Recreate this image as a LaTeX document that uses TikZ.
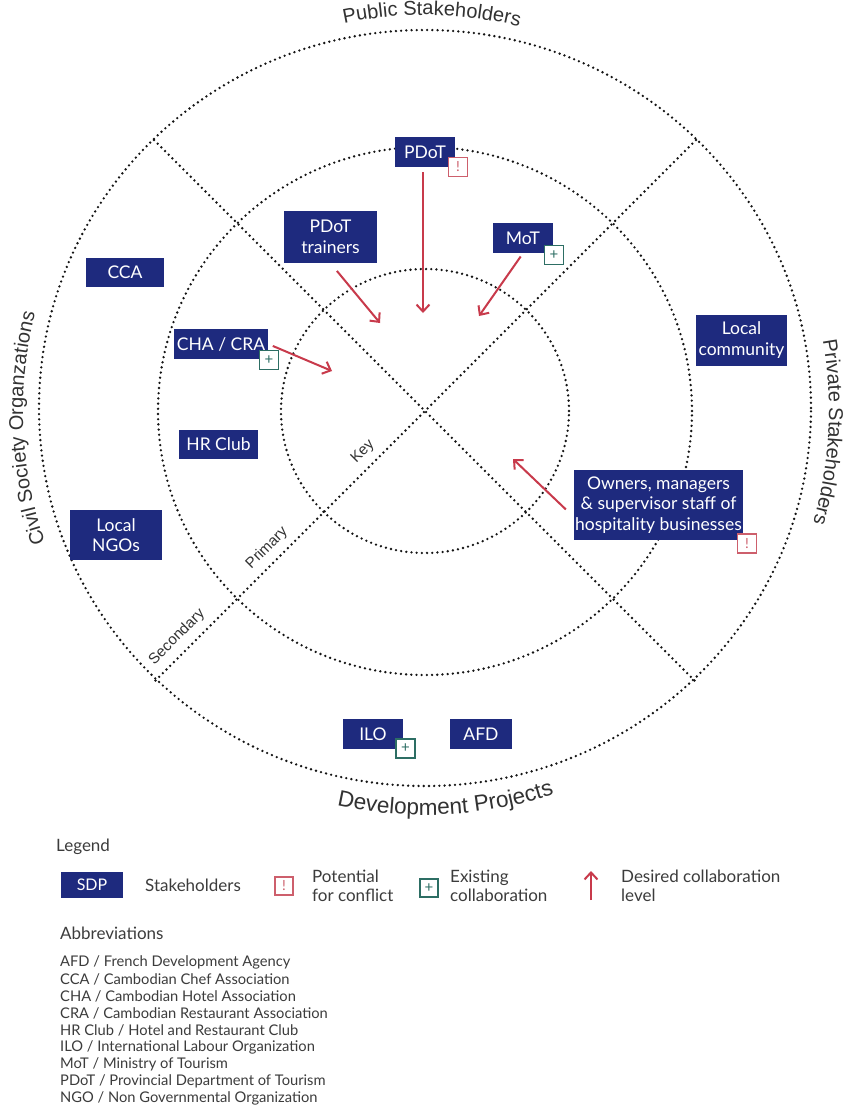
\documentclass[tikz,border=0pt]{standalone}
\usepackage{fontspec}
\setmainfont{Lato}
\newfontfamily\arialf{Liberation Sans}
\usetikzlibrary{arrows.meta,decorations.text}
\definecolor{navy}{RGB}{30,42,126}
\definecolor{arrred}{RGB}{200,58,75}
\definecolor{confred}{RGB}{205,95,108}
\definecolor{tealc}{RGB}{45,110,100}
\definecolor{txtgray}{RGB}{50,50,50}
\definecolor{lgray}{RGB}{60,60,60}
\definecolor{dotc}{RGB}{20,20,20}
\tikzset{
  dotline/.style={draw=dotc, line width=2.6pt, line cap=round, dash pattern=on 0pt off 5.2pt},
  sbox/.style={fill=navy, text=white, font=\fontsize{17.5}{20.5}\selectfont, align=center, inner sep=0pt},
  confbox/.style={draw=confred, fill=white, line width=1.1pt, minimum size=19pt, inner sep=0pt, text=confred, font=\fontsize{14}{14}\selectfont},
  collbox/.style={draw=tealc, fill=white, line width=1.1pt, minimum size=19pt, inner sep=0pt, text=tealc, font=\fontsize{15}{15}\selectfont},
  arr/.style={draw=arrred, line width=2pt, -{Straight Barb[length=7pt,width=13pt]}},
  diaglbl/.style={font=\arialf\fontsize{15}{15}\selectfont, text=txtgray, inner sep=0pt, rotate=45},
  lgtext/.style={font=\fontsize{17}{18.5}\selectfont, text=lgray, inner sep=0pt, anchor=west, align=left},
  abtext/.style={font=\fontsize{14.7}{14.7}\selectfont, text=lgray, inner sep=0pt, anchor=west},
}
\begin{document}
\begin{tikzpicture}[x=1pt,y=1pt]
\fill[white] (0,0) rectangle (843,-1109);
\useasboundingbox (0,0) rectangle (843,-1109);
\coordinate (C) at (425,-411);
\coordinate (Co) at (425,-408);
% circles
\draw[dotline] (Co) ellipse [x radius=386, y radius=378];
\draw[dotline] (C) ellipse [x radius=267, y radius=264];
\draw[dotline] (C) ellipse [x radius=144, y radius=142];
% diagonals
\coordinate (ul) at (154,-140);
\coordinate (ur) at (696,-140);
\coordinate (ll) at (154,-682);
\coordinate (lr) at (696,-682);
\draw[dotline] (ul) -- (lr);
\draw[dotline] (ur) -- (ll);
% curved labels
\path[decorate, decoration={text along path, text align=center, text color=txtgray,
  text={|\arialf\fontsize{20}{20}\selectfont|Public Stakeholders}}]
  ([shift={(114:393)}]Co) arc[start angle=114, end angle=64, radius=393];
\path[decorate, decoration={text along path, text align=center, text color=txtgray,
  text={|\arialf\fontsize{22.5}{22.5}\selectfont|Development Projects}}]
  ([shift={(-113:407)}]Co) arc[start angle=-113, end angle=-61, radius=407];
\path[decorate, decoration={text along path, text align=center, text color=txtgray,
  text={|\arialf\fontsize{20}{20}\selectfont|Civil Society Organzations}}]
  ([shift={(212:402)}]C) arc[start angle=212, end angle=153, radius=402];
\path[decorate, decoration={text along path, text align=center, text color=txtgray,
  text={|\arialf\fontsize{20}{20}\selectfont|Private Stakeholders}}]
  ([shift={(24:404)}]C) arc[start angle=24, end angle=-30, radius=404];
% diagonal labels
\node[diaglbl] (lKey) at (363,-452) {Key};
\node[diaglbl] (lPrim) at (267,-548) {Primary};
\node[diaglbl] (lSec) at (177,-637) {Secondary};
% stakeholder boxes
\node[sbox, minimum width=60pt, minimum height=30pt] (PDoT) at (425,-152) {PDoT};
\node[sbox, minimum width=93pt, minimum height=52pt] (PDoTtr) at (330.5,-237) {PDoT\\trainers};
\node[sbox, minimum width=60pt, minimum height=30pt] (MoT) at (523,-238) {MoT};
\node[sbox, minimum width=78pt, minimum height=29pt] (CCA) at (125,-272) {CCA};
\node[sbox, minimum width=94pt, minimum height=30pt] (CHA) at (221,-344) {CHA / CRA};
\node[sbox, minimum width=79pt, minimum height=29pt] (HR) at (218.5,-444.5) {HR Club};
\node[sbox, minimum width=92pt, minimum height=50pt] (NGO) at (116,-535) {Local\\NGOs};
\node[sbox, minimum width=91pt, minimum height=51pt] (LC) at (741.5,-340) {Local\\community};
\node[sbox, minimum width=169pt, minimum height=70pt] (Own) at (658.5,-505) {Owners, managers\\\& supervisor staff of\\hospitality businesses};
\node[sbox, minimum width=60pt, minimum height=30pt] (ILO) at (373,-734) {ILO};
\node[sbox, minimum width=62pt, minimum height=30pt] (AFD) at (481,-734) {AFD};
% marks
\node[confbox] (cPDoT) at (458,-167) {!};
\node[collbox] (pMoT) at (554,-255) {+};
\node[collbox] (pCHA) at (269,-360) {+};
\node[confbox] (cOwn) at (747,-543.5) {!};
\node[collbox] (pILO) at (405.5,-748.5) {+};
% arrows
\coordinate (tPDoT) at (423,-313);
\coordinate (tTr) at (380,-323);
\coordinate (tMoT) at (479,-316);
\coordinate (tCHA) at (332,-371);
\coordinate (tOwn) at (513,-459);
\draw[arr, shorten <=5pt] (PDoT.south -| tPDoT) -- (tPDoT);
\draw[arr, shorten <=10pt] (PDoTtr.south) -- (tTr);
\draw[arr, shorten <=4pt] (MoT.south) -- (tMoT);
\draw[arr, shorten <=5pt] (CHA.east) -- (tCHA);
\draw[arr, shorten <=11pt] ([yshift=-12pt]Own.west) -- (tOwn);
% legend
\node[lgtext] (lgd) at (56,-847) {Legend};
\node[sbox, minimum width=62pt, minimum height=26pt, font=\fontsize{16}{16}\selectfont] (SDP) at (92,-885) {SDP};
\node[lgtext] (lgS) at (145,-885) {Stakeholders};
\node[confbox, minimum size=18pt] (lgC) at (284,-886) {!};
\node[lgtext] (lgP) at (312,-886) {Potential\\for conflict};
\node[collbox, minimum size=18pt] (lgE) at (429,-888) {+};
\node[lgtext] (lgX) at (450,-886) {Existing\\collaboration};
\coordinate (la1) at (591,-900);
\coordinate (la2) at (591,-871);
\draw[arr] (la1) -- (la2);
\node[lgtext] (lgD) at (621,-886) {Desired collaboration\\level};
% abbreviations
\node[lgtext] (abh) at (60,-933) {Abbreviations};
\foreach \t [count=\i] in {AFD / French Development Agency, CCA / Cambodian Chef Association, CHA / Cambodian Hotel Association, CRA / Cambodian Restaurant Association, HR Club / Hotel and Restaurant Club, ILO / International Labour Organization, MoT / Ministry of Tourism, PDoT / Provincial Department of Tourism, NGO / Non Governmental Organization}
  \node[abtext] (ab\i) at (60,{-962-17.1*(\i-1)}) {\t};
\end{tikzpicture}
\end{document}
